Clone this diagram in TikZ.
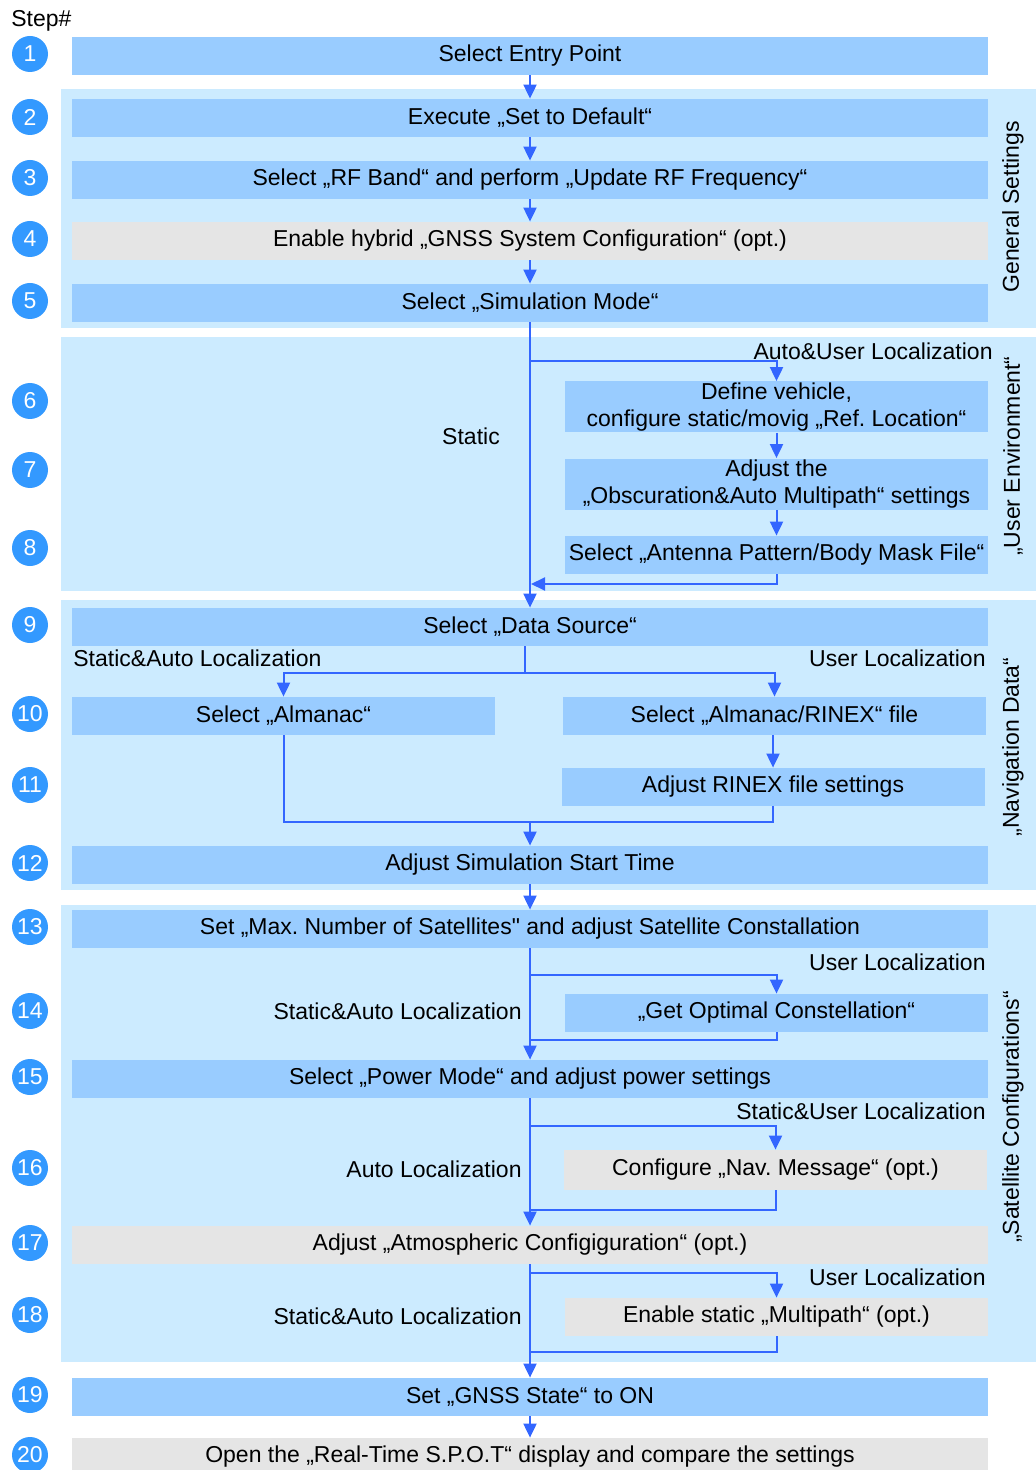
\documentclass[tikz,border=0pt]{standalone}
\usepackage{fontspec}
\setmainfont{Liberation Sans}[Ligatures=TeXOff]
\usetikzlibrary{arrows.meta}
\frenchspacing

\definecolor{secbg}{HTML}{CCEBFF}
\definecolor{boxblue}{HTML}{99CCFF}
\definecolor{boxgrey}{HTML}{E5E5E5}
\definecolor{flowblue}{HTML}{3366FF}
\definecolor{numblue}{HTML}{3399FF}

\tikzset{
  stepbox/.style={fill=boxblue, minimum width=458pt, minimum height=19pt, inner sep=0pt, align=center},
  greybox/.style={stepbox, fill=boxgrey},
  subbox/.style={stepbox, minimum width=211.5pt},
  flow/.style={draw=flowblue, line width=1pt, -{Triangle[width=6.5pt,length=7pt]}},
  link/.style={draw=flowblue, line width=1pt},
  stepnum/.style={circle, fill=numblue, text=white, minimum size=18pt, inner sep=0pt},
  lbl/.style={inner sep=0pt},
  sidelbl/.style={inner sep=0pt, rotate=90},
}

\begin{document}
\begin{tikzpicture}[x=0.5pt,y=-0.5pt,font=\fontsize{11.5}{13.5}\selectfont]
\useasboundingbox (0,0) rectangle (1036,1470);

% section backgrounds
\fill[secbg] (61,89) rectangle (1036,328);
\fill[secbg] (61,337) rectangle (1036,591);
\fill[secbg] (61,600) rectangle (1036,890);
\fill[secbg] (61,905) rectangle (1036,1362);

\node (sidegen) [sidelbl] at (1013,207) {General Settings};
\node (sideuser) [sidelbl] at (1013,456) {„User Environment“};
\node (sidenav) [sidelbl] at (1013,747) {„Navigation Data“};
\node (sidesat) [sidelbl] at (1013,1117) {„Satellite Configurations“};

% step numbers
\node (stephead) [lbl, anchor=west] at (11,21) {Step\#};
\foreach \n/\y in {1/54,2/117,3/178,4/239,5/301,6/401,7/470,8/548,9/625,10/714,
  11/785,12/863,13/927,14/1011,15/1077,16/1168,17/1243,18/1315,19/1395,20/1455}
  \node (c\n) [stepnum] at (30,\y) {\n};

% steps
\node (s1) [stepbox] at (530,56) {Select Entry Point};
\node (s2) [stepbox] at (530,118) {Execute „Set to Default“};
\node (s3) [stepbox] at (530,180) {Select „RF Band“ and perform „Update RF Frequency“};
\node (s4) [greybox] at (530,241) {Enable hybrid „GNSS System Configuration“ (opt.)};
\node (s5) [stepbox] at (530,303) {Select „Simulation Mode“};

\node (s6) [subbox, minimum height=25.5pt] at (776.5,407) {Define vehicle,\\configure static/movig „Ref. Location“};
\node (s7) [subbox, minimum height=25.5pt] at (776.5,484) {Adjust the\\„Obscuration\&Auto Multipath“ settings};
\node (s8) [subbox] at (776.5,555) {Select „Antenna Pattern/Body Mask File“};

\node (s9) [stepbox] at (530,627) {Select „Data Source“};
\node (s10a) [subbox] at (283.5,716) {Select „Almanac“};
\node (s10b) [subbox] at (774.5,716) {Select „Almanac/RINEX“ file};
\node (s11) [subbox] at (773,787) {Adjust RINEX file settings};
\node (s12) [stepbox] at (530,865) {Adjust Simulation Start Time};

\node (s13) [stepbox] at (530,929) {Set „Max. Number of Satellites" and adjust Satellite Constallation};
\node (s14) [subbox] at (776.5,1013) {„Get Optimal Constellation“};
\node (s15) [stepbox] at (530,1079) {Select „Power Mode“ and adjust power settings};
\node (s16) [subbox, fill=boxgrey, minimum height=20pt] at (775.5,1170) {Configure „Nav. Message“ (opt.)};
\node (s17) [greybox] at (530,1245) {Adjust „Atmospheric Configiguration“ (opt.)};
\node (s18) [subbox, fill=boxgrey] at (776.5,1317) {Enable static „Multipath“ (opt.)};
\node (s19) [stepbox] at (530,1397) {Set „GNSS State“ to ON};
\node (s20) [greybox] at (530,1457) {Open the „Real-Time S.P.O.T“ display and compare the settings};

% branch labels
\node (l6) [lbl] at (471,436) {Static};
\node (l6r) [lbl, anchor=east] at (993,351) {Auto\&User Localization};
\node (l9) [lbl, anchor=west] at (73,658) {Static\&Auto Localization};
\node (l9r) [lbl, anchor=east] at (986,658) {User Localization};
\node (l14) [lbl, anchor=east] at (522,1011) {Static\&Auto Localization};
\node (l14r) [lbl, anchor=east] at (986,962) {User Localization};
\node (l16) [lbl, anchor=east] at (522,1169) {Auto Localization};
\node (l16r) [lbl, anchor=east] at (986,1111) {Static\&User Localization};
\node (l18) [lbl, anchor=east] at (522,1316) {Static\&Auto Localization};
\node (l18r) [lbl, anchor=east] at (986,1277) {User Localization};

% junctions
\coordinate (j5) at (530,361);
\coordinate (j8) at (531,584);
\coordinate (j9) at (525,673);
\coordinate (j11) at (530,822);
\coordinate (j13) at (530,975);
\coordinate (k14) at (530,1040);
\coordinate (j15) at (530,1126);
\coordinate (k16) at (530,1210);
\coordinate (j17) at (530,1273);
\coordinate (k18) at (530,1352);

% connectors
\draw[flow] (s1) -- (s2);
\draw[flow] (s2) -- (s3);
\draw[flow] (s3) -- (s4);
\draw[flow] (s4) -- (s5);
\draw[flow] (s5) -- (s9);
\draw[flow] (j5) -| (s6);
\draw[flow] (s6) -- (s7);
\draw[flow] (s7) -- (s8);
\draw[flow] (s8) |- (j8);

\draw[link] (j9 |- s9.south) -- (j9);
\draw[flow] (j9) -| (s10a);
\draw[flow] (j9) -| (s10b);
\draw[flow] (s10b.south -| s11) -- (s11);
\draw[link] (s10a) |- (j11) -| (s11);
\draw[flow] (j11) -- (s12);
\draw[flow] (s12) -- (s13);

\draw[flow] (s13) -- (s15);
\draw[flow] (j13) -| (s14);
\draw[link] (s14) |- (k14);
\draw[flow] (s15) -- (s17);
\draw[flow] (j15) -| (s16);
\draw[link] (s16) |- (k16);
\draw[flow] (s17) -- (s19);
\draw[flow] (j17) -| (s18);
\draw[link] (s18) |- (k18);
\draw[flow] (s19) -- (s20);
\end{tikzpicture}
\end{document}
